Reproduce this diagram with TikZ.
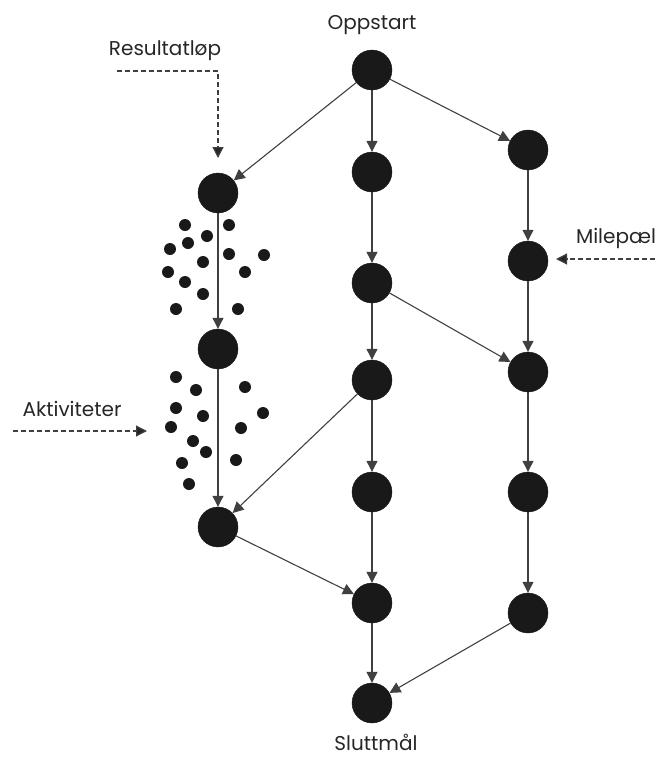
\documentclass[tikz,border=0pt]{standalone}
\usepackage{fontspec}
\setmainfont{Poppins}
\usetikzlibrary{arrows.meta}
\begin{document}
\begin{tikzpicture}[x=1pt,y=-1pt,
  milestone/.style={circle,fill=black!90,draw=black!90,minimum size=40pt,inner sep=0pt},
  activity/.style={circle,fill=black!90,minimum size=12pt,inner sep=0pt},
  flow/.style={draw=black!75,line width=1.1pt,-{Triangle[length=11pt,width=11pt,fill=black!75]}},
  pointer/.style={draw=black!75,line width=1.2pt,dash pattern=on 5pt off 3pt,-{Triangle[length=11pt,width=11pt,fill=black!85]}},
  lbl/.style={font=\fontsize{20}{23}\selectfont,text=black!85,inner sep=0pt}]
\useasboundingbox (0,0) rectangle (662,758);

% milestones
\node[milestone] (O)  at (372,70)  {};
\node[milestone] (M1) at (372,172) {};
\node[milestone] (M2) at (372,283) {};
\node[milestone] (M3) at (372,380) {};
\node[milestone] (M4) at (372,492) {};
\node[milestone] (M5) at (372,603) {};
\node[milestone] (S)  at (372,703) {};
\node[milestone] (L1) at (218,193) {};
\node[milestone] (L2) at (218,349) {};
\node[milestone] (L3) at (218,527) {};
\node[milestone] (R1) at (528,150) {};
\node[milestone] (R2) at (528,261) {};
\node[milestone] (R3) at (528,372) {};
\node[milestone] (R4) at (528,492) {};
\node[milestone] (R5) at (528,613) {};

% connectors between milestones
\draw[flow] (O) -- (L1);
\draw[flow] (O) -- (M1);
\draw[flow] (O) -- (R1);
\draw[flow] (L1) -- (L2);
\draw[flow] (L2) -- (L3);
\draw[flow] (M1) -- (M2);
\draw[flow] (M2) -- (M3);
\draw[flow] (M3) -- (M4);
\draw[flow] (M4) -- (M5);
\draw[flow] (M5) -- (S);
\draw[flow] (M2) -- (R3);
\draw[flow] (M3) -- (L3);
\draw[flow] (L3) -- (M5);
\draw[flow] (R1) -- (R2);
\draw[flow] (R2) -- (R3);
\draw[flow] (R3) -- (R4);
\draw[flow] (R4) -- (R5);
\draw[flow] (R5) -- (S);

% activities, upper group
\foreach \x/\y [count=\i] in {185/225,229/225,207/236,170/249,188/243,229/254,264/255,203/262,168/272,245/272,185/282,203/294,176/309,238/309}
  \node[activity] (a\i) at (\x,\y) {};
% activities, lower group
\foreach \x/\y [count=\i] in {176/377,196/390,245/387,176/408,203/416,263/413,171/427,241/428,193/441,206/452,236/460,182/463,189/484}
  \node[activity] (b\i) at (\x,\y) {};

% labels
\node[lbl] (start) at (372,25) {Oppstart};
\node[lbl] (goal)  at (376,742) {Sluttmål};
\node[lbl] (res)   at (165,51) {Resultatløp};
\node[lbl] (act)   at (72,409) {Aktiviteter};
\node[lbl] (mile)  at (616,238) {Milepæl};

% pointers from labels
\coordinate (resS) at (117,71);
\coordinate (resT) at (218,158);
\draw[pointer] (resS) -| (resT);
\coordinate (actS) at (13,431);
\coordinate (actT) at (147,431);
\draw[pointer] (actS) -- (actT);
\coordinate (mileS) at (655,259);
\coordinate (mileT) at (556,259);
\draw[pointer] (mileS) -- (mileT);
\end{tikzpicture}
\end{document}
